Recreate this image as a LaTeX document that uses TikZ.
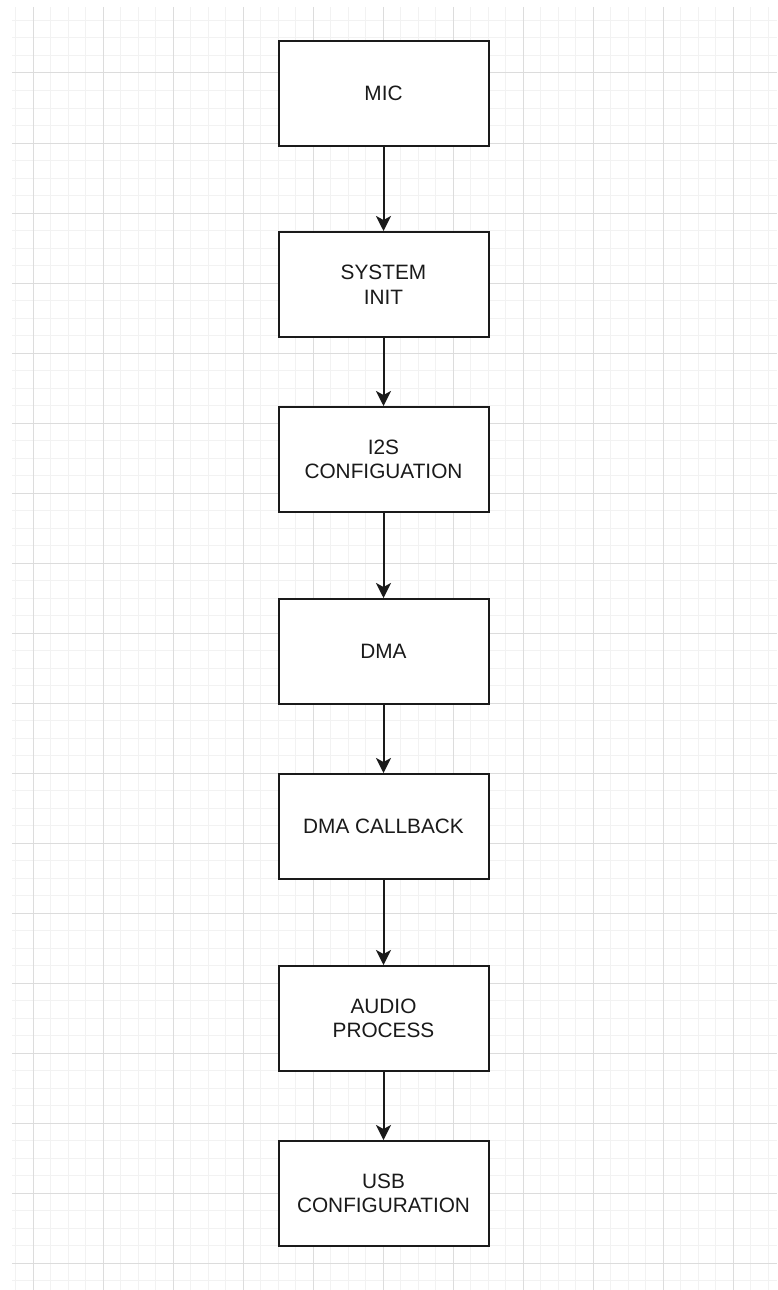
\documentclass[tikz,border=0pt]{standalone}
\usepackage{fontspec}
\setmainfont{Liberation Sans}
\usetikzlibrary{arrows.meta}
\definecolor{minorgrid}{HTML}{F2F2F2}
\definecolor{majorgrid}{HTML}{DCDCDC}
\definecolor{boxline}{HTML}{1A1A1A}
\definecolor{boxtext}{HTML}{1A1A1A}
\tikzset{
  blk/.style={draw=boxline, line width=2pt, fill=white, minimum width=210pt, minimum height=105pt,
    align=center, inner sep=0pt, text=boxtext, font=\fontsize{20.8}{24.5}\selectfont},
  flow/.style={draw=boxline, line width=2pt, -{Stealth[length=15pt,width=15pt,inset=4pt]}}
}
\begin{document}
\begin{tikzpicture}[x=1pt,y=-1pt]
\useasboundingbox (0,0) rectangle (777,1290);
% background grid
\begin{scope}
  \clip (12,7) rectangle (777,1290);
  \foreach \k in {0,...,44} {
    \draw[minorgrid, line width=1pt] ({15.5+17.5*\k},7) -- ({15.5+17.5*\k},1290);
  }
  \foreach \k in {0,...,73} {
    \draw[minorgrid, line width=1pt] (12,{20.5+17.5*\k}) -- (777,{20.5+17.5*\k});
  }
  \foreach \k in {0,...,10} {
    \draw[majorgrid, line width=1pt] ({33+70*\k},7) -- ({33+70*\k},1290);
  }
  \foreach \k in {0,...,17} {
    \draw[majorgrid, line width=1pt] (12,{73+70*\k}) -- (777,{73+70*\k});
  }
\end{scope}
% processing chain
\node[blk] (mic)  at (383.5,93.5)   {MIC};
\node[blk] (init) at (383.5,284.5)  {SYSTEM\\INIT};
\node[blk] (i2s)  at (383.5,459.5)  {I2S\\CONFIGUATION};
\node[blk] (dma)  at (383.5,651.5)  {DMA};
\node[blk] (cb)   at (383.5,826.5)  {DMA CALLBACK};
\node[blk] (aud)  at (383.5,1018.5) {AUDIO\\PROCESS};
\node[blk] (usb)  at (383.5,1193.5) {USB\\CONFIGURATION};
\draw[flow] (mic) -- (init);
\draw[flow] (init) -- (i2s);
\draw[flow] (i2s) -- (dma);
\draw[flow] (dma) -- (cb);
\draw[flow] (cb) -- (aud);
\draw[flow] (aud) -- (usb);
\end{tikzpicture}
\end{document}
